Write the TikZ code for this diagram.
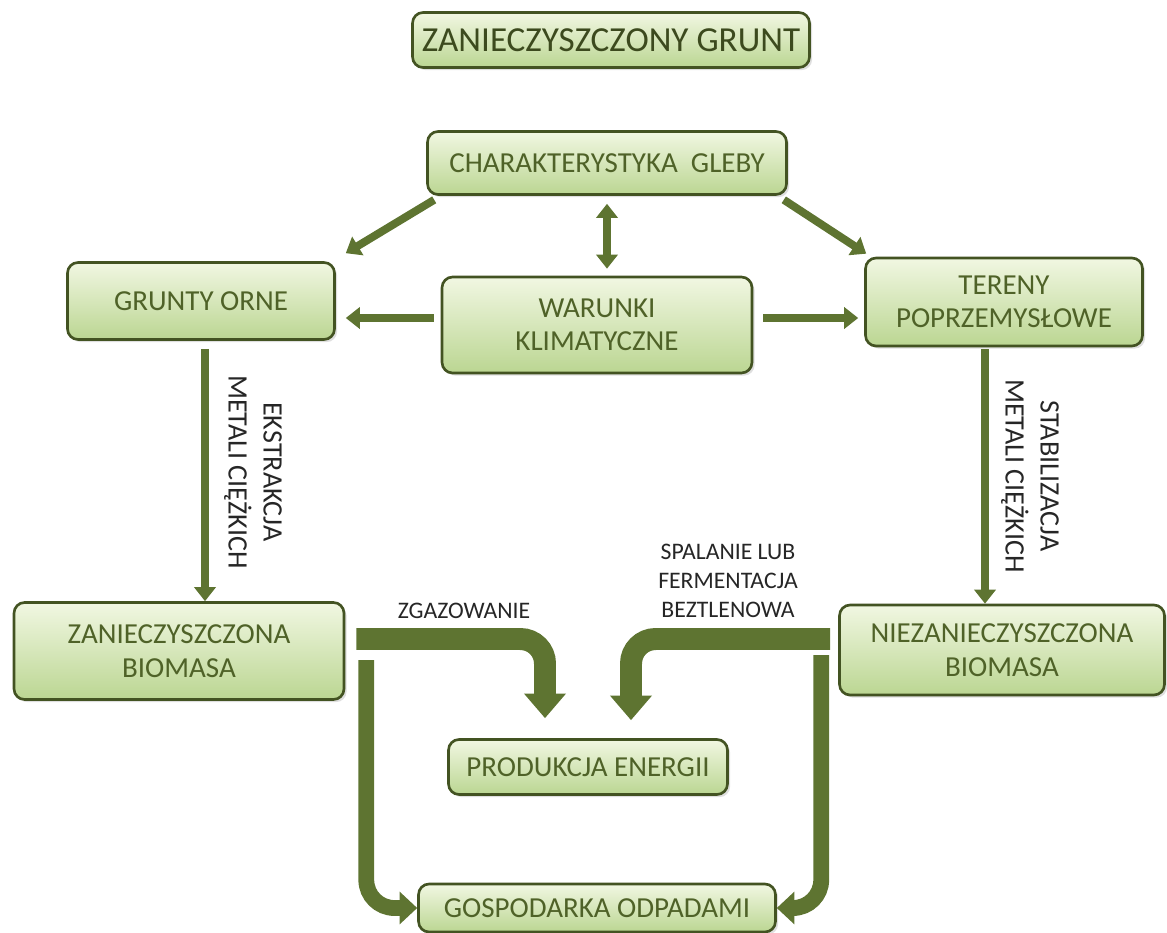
\documentclass[tikz,border=0pt]{standalone}
\usepackage{fontspec}
\setmainfont{Carlito}
\usepackage{tikz}
\usetikzlibrary{arrows.meta,calc,shadows}
\definecolor{olivedark}{HTML}{4F6228}
\definecolor{olivetitle}{HTML}{3C4A1E}
\definecolor{olivearrow}{HTML}{5E7431}
\definecolor{olivetop}{HTML}{F1F7E2}
\definecolor{olivebot}{HTML}{BBD692}
\tikzset{
  box/.style={draw=olivedark!85!black, line width=1.5pt, rounded corners=6pt, top color=olivetop, bottom color=olivebot, text=olivedark, align=center, font=\fontsize{16.5}{19}\selectfont, inner sep=2pt, drop shadow={opacity=0.25, shadow xshift=1.5pt, shadow yshift=-1.5pt}},
  titlebox/.style={box, font=\fontsize{20}{24}\selectfont, text=olivetitle},
  line/.style={-{Triangle[width=12pt,length=8pt]}, line width=4.5pt, olivearrow},
  dline/.style={{Triangle[width=12pt,length=8pt]}-{Triangle[width=12pt,length=8pt]}, line width=4.5pt, olivearrow},
  fat/.style={-{Triangle[width=23pt,length=14pt]}, line width=12.5pt, olivearrow, rounded corners=14pt},
  wide/.style={-{Triangle[width=18pt,length=10pt]}, line width=9pt, olivearrow, rounded corners=16pt},
  lbl/.style={align=center, font=\fontsize{16}{20}\selectfont, text=black!85},
  smalllbl/.style={align=center, font=\fontsize{13.5}{16.5}\selectfont, text=black!85}
}

\begin{document}
\begin{tikzpicture}[x=0.02cm,y=-0.02cm]
  \useasboundingbox (0,0) rectangle (1167,933);
  \node[titlebox, minimum width=7.94cm, minimum height=1.1cm] (zg) at (611,40) {ZANIECZYSZCZONY GRUNT};
  \node[box, minimum width=7.18cm, minimum height=1.26cm] (cg) at (607,163) {CHARAKTERYSTYKA\ \ GLEBY};
  \node[box, minimum width=5.34cm, minimum height=1.54cm] (go) at (201,301) {GRUNTY ORNE};
  \node[box, minimum width=6.2cm, minimum height=1.92cm] (wk) at (597,325) {WARUNKI\\KLIMATYCZNE};
  \node[box, minimum width=5.54cm, minimum height=1.76cm] (tp) at (1004,302) {TERENY\\POPRZEMYSŁOWE};
  \node[box, minimum width=6.6cm, minimum height=1.94cm] (zb) at (179,651) {ZANIECZYSZCZONA\\BIOMASA};
  \node[box, minimum width=6.5cm, minimum height=1.8cm] (nb) at (1002,650) {NIEZANIECZYSZCZONA\\BIOMASA};
  \node[box, minimum width=5.58cm, minimum height=1.1cm] (pe) at (588,767) {PRODUKCJA ENERGII};
  \node[box, minimum width=7.14cm, minimum height=0.96cm] (gd) at (597,908) {GOSPODARKA ODPADAMI};

  \draw[line] ($(cg.south west)+(8,4)$) -- ($(go.north east)+(10,-8)$);
  \draw[line] ($(cg.south east)+(-4,4)$) -- ($(tp.north west)+(2,-3)$);
  \draw[dline] ($(cg.south)+(0,8)$) -- ($(cg.south |- wk.north)+(0,-7)$);
  \draw[line] ($(wk.west)+(-7,-7)$) -- ($(wk.west -| go.east)+(10,-7)$);
  \draw[line] ($(wk.east)+(10,-7)$) -- ($(wk.east -| tp.west)+(-6,-7)$);
  \draw[line] ($(go.south)+(4,8)$) -- ($(go.south |- zb.north)+(4,0)$);
  \draw[line] ($(tp.south)+(-19,2)$) -- ($(tp.south |- nb.north)+(-19,0)$);

  \draw[fat] ($(zb.east)+(11,-12)$) -| ($(pe.north)+(-43,-20)$);
  \draw[fat] ($(nb.west)+(-8,-11)$) -| ($(pe.north)+(43,-18)$);
  \draw[wide] ($(zb.east)+(21,9)$) |- (gd.west);
  \draw[wide] ($(nb.west)+(-17,5)$) |- (gd.east);

  \node[lbl, rotate=-90] (ek) at (253,472) {EKSTRAKCJA\\METALI CIĘŻKICH};
  \node[lbl, rotate=-90] (st) at (1030,476) {STABILIZACJA\\METALI CIĘŻKICH};
  \node[smalllbl] (zz) at (464,611) {ZGAZOWANIE};
  \node[smalllbl] (sp) at (728,581) {SPALANIE LUB\\FERMENTACJA\\BEZTLENOWA};
\end{tikzpicture}
\end{document}
